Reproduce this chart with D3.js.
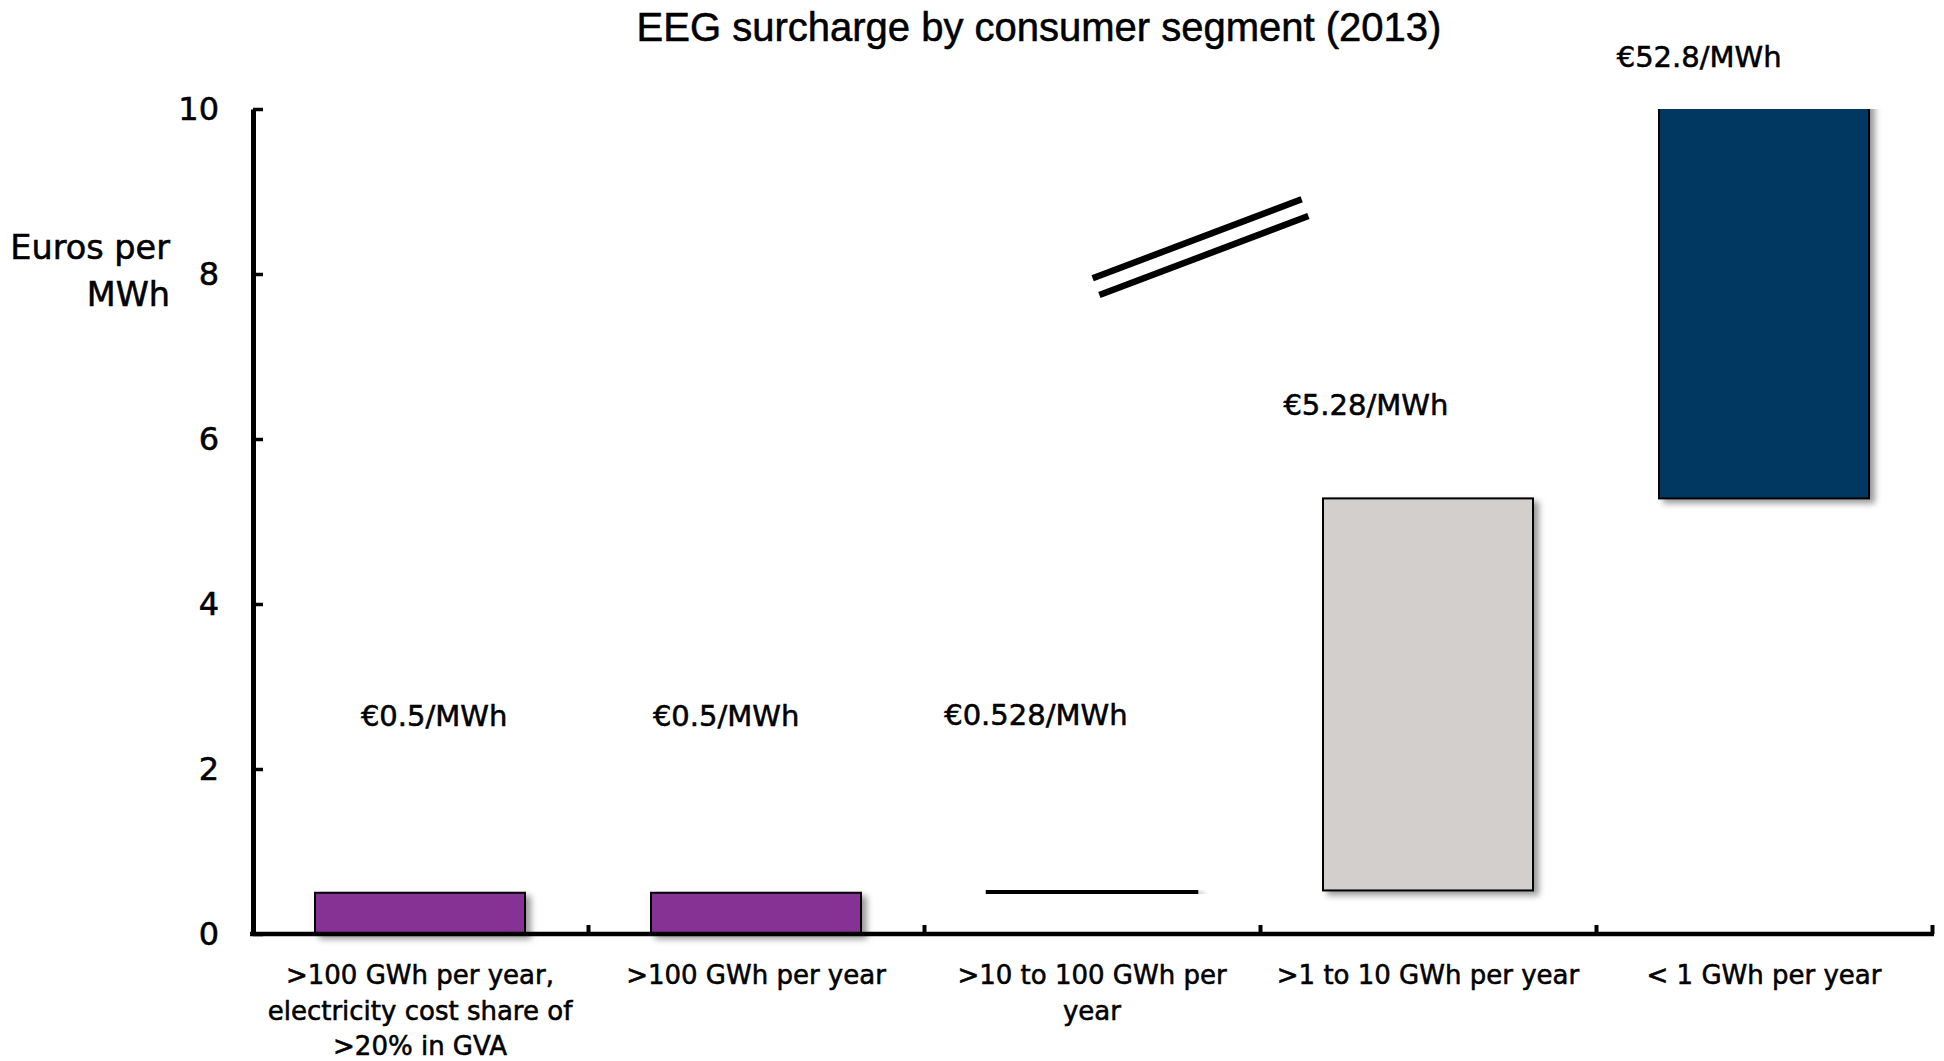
<!DOCTYPE html>
<html>
<head>
<meta charset="utf-8">
<script src="https://cdn.jsdelivr.net/npm/d3@7"></script>
<style>
  html, body { margin: 0; padding: 0; background: #fff; }
  svg { display: block; }
  text { fill: #000; stroke: #000; stroke-width: 0.55px; }
</style>
</head>
<body>
<svg id="chart" width="1944" height="1061"></svg>
<script>
// Consumer segments and EEG surcharge paid (euros per MWh), drawn as a waterfall
const categories = [
  ">100 GWh per year, electricity cost share of >20% in GVA",
  ">100 GWh per year",
  ">10 to 100 GWh per year",
  ">1 to 10 GWh per year",
  "< 1 GWh per year"
];
const categoryLines = [
  [">100 GWh per year,", "electricity cost share of", ">20% in GVA"],
  [">100 GWh per year"],
  [">10 to 100 GWh per", "year"],
  [">1 to 10 GWh per year"],
  ["< 1 GWh per year"]
];
const barStart = [0, 0, 0.5, 0.528, 5.28];
const barEnd = [0.5, 0.5, 0.528, 5.28, 52.8];
const valueLabels = ["€0.5/MWh", "€0.5/MWh", "€0.528/MWh", "€5.28/MWh", "€52.8/MWh"];
const yTicks = [0, 2, 4, 6, 8, 10];

// Layout: label anchors (x in category units, y in euros) and the axis-break mark
const labelAnchorX = [0.542, 1.411, 2.333, 3.315, 4.307];
const labelAnchorY = [2.518, 2.518, 2.53, 6.29, 10.51];
const breakMarks = [
  [[2.502, 7.948], [3.124, 8.906]],
  [[2.522, 7.745], [3.144, 8.703]]
];
const barColors = ["#853294", "#853294", "#1d3f55", "#d3cfcc", "#003762"];

const svg = d3.select("#chart");
const plotLeft = 252, plotRight = 1932, plotTop = 109, plotBottom = 934;

const x = d3.scaleBand().domain(categories).range([plotLeft, plotRight])
  .paddingInner(0.375).paddingOuter(0.1875);
const xUnits = d3.scaleLinear().domain([0, categories.length]).range([plotLeft, plotRight]);
const y = d3.scaleLinear().domain([0, 10]).range([plotBottom, plotTop]);

const defs = svg.append("defs");
const shadow = defs.append("filter").attr("id", "shadow")
  .attr("x", "-10%").attr("y", "-10%").attr("width", "130%").attr("height", "140%");
shadow.append("feDropShadow").attr("dx", 5).attr("dy", 4).attr("stdDeviation", 3)
  .attr("flood-color", "#000").attr("flood-opacity", 0.4);
defs.append("clipPath").attr("id", "plotClip").append("rect")
  .attr("x", plotLeft - 10).attr("y", plotTop)
  .attr("width", plotRight - plotLeft + 40).attr("height", plotBottom - plotTop + 40);

// Title
svg.append("text")
  .attr("x", 1039).attr("y", 41)
  .attr("text-anchor", "middle")
  .style("font-family", "'Liberation Sans', Arial, sans-serif")
  .style("font-size", "40px")
  .text("EEG surcharge by consumer segment (2013)");

// Bars
svg.append("g").attr("clip-path", "url(#plotClip)")
  .selectAll("rect").data(categories).join("rect")
  .attr("x", d => x(d))
  .attr("width", x.bandwidth())
  .attr("y", (d, i) => y(Math.min(barEnd[i], 10.3)))
  .attr("height", (d, i) => y(barStart[i]) - y(Math.min(barEnd[i], 10.3)))
  .attr("fill", (d, i) => barColors[i])
  .attr("stroke", "#000")
  .attr("stroke-width", (d, i) => i === 2 ? 2.5 : 2)
  .attr("filter", "url(#shadow)");

// Value labels
svg.append("g").selectAll("text").data(valueLabels).join("text")
  .attr("x", (d, i) => xUnits(labelAnchorX[i]))
  .attr("y", (d, i) => y(labelAnchorY[i]))
  .attr("text-anchor", "middle")
  .style("font-family", "'DejaVu Sans', Verdana, sans-serif")
  .style("font-size", "29px")
  .text(d => d);

// Axis-break mark
svg.append("g").selectAll("line").data(breakMarks).join("line")
  .attr("x1", d => xUnits(d[0][0])).attr("y1", d => y(d[0][1]))
  .attr("x2", d => xUnits(d[1][0])).attr("y2", d => y(d[1][1]))
  .attr("stroke", "#000").attr("stroke-width", 6.5);

// Y axis
const yAxis = svg.append("g").attr("transform", `translate(${plotLeft + 1},0)`)
  .call(d3.axisLeft(y).tickValues(yTicks).tickFormat(d3.format("d"))
    .tickSize(-10).tickSizeOuter(0).tickPadding(34));
yAxis.select(".domain").attr("stroke", "#000").attr("stroke-width", 5);
yAxis.selectAll(".tick line").attr("stroke", "#000").attr("stroke-width", 3.5);
yAxis.selectAll(".tick text")
  .style("font-family", "'DejaVu Sans', Verdana, sans-serif")
  .style("font-size", "32px");

// X axis: ticks at segment boundaries
const xAxis = svg.append("g").attr("transform", `translate(0,${plotBottom})`)
  .call(d3.axisBottom(xUnits).tickValues([1, 2, 3, 4, 5]).tickFormat("")
    .tickSize(-9).tickSizeOuter(0));
xAxis.select(".domain").attr("stroke", "#000").attr("stroke-width", 4.5)
  .attr("d", `M${plotLeft - 2},0H${plotRight + 2}`);
xAxis.selectAll(".tick line").attr("stroke", "#000").attr("stroke-width", 4);

// Category labels
const catG = svg.append("g")
  .style("font-family", "'DejaVu Sans', Verdana, sans-serif")
  .style("font-size", "26px");
categories.forEach((c, i) => {
  const t = catG.append("text")
    .attr("x", x(c) + x.bandwidth() / 2)
    .attr("y", 984)
    .attr("text-anchor", "middle");
  categoryLines[i].forEach((line, j) => {
    t.append("tspan").attr("x", x(c) + x.bandwidth() / 2)
      .attr("dy", j === 0 ? 0 : 35.5).text(line);
  });
});

// Y axis title
const yt = svg.append("text")
  .attr("text-anchor", "end")
  .style("font-family", "'DejaVu Sans', Verdana, sans-serif")
  .style("font-size", "33.5px");
yt.append("tspan").attr("x", 170).attr("y", 259).text("Euros per");
yt.append("tspan").attr("x", 170).attr("y", 306).text("MWh");
</script>
</body>
</html>
